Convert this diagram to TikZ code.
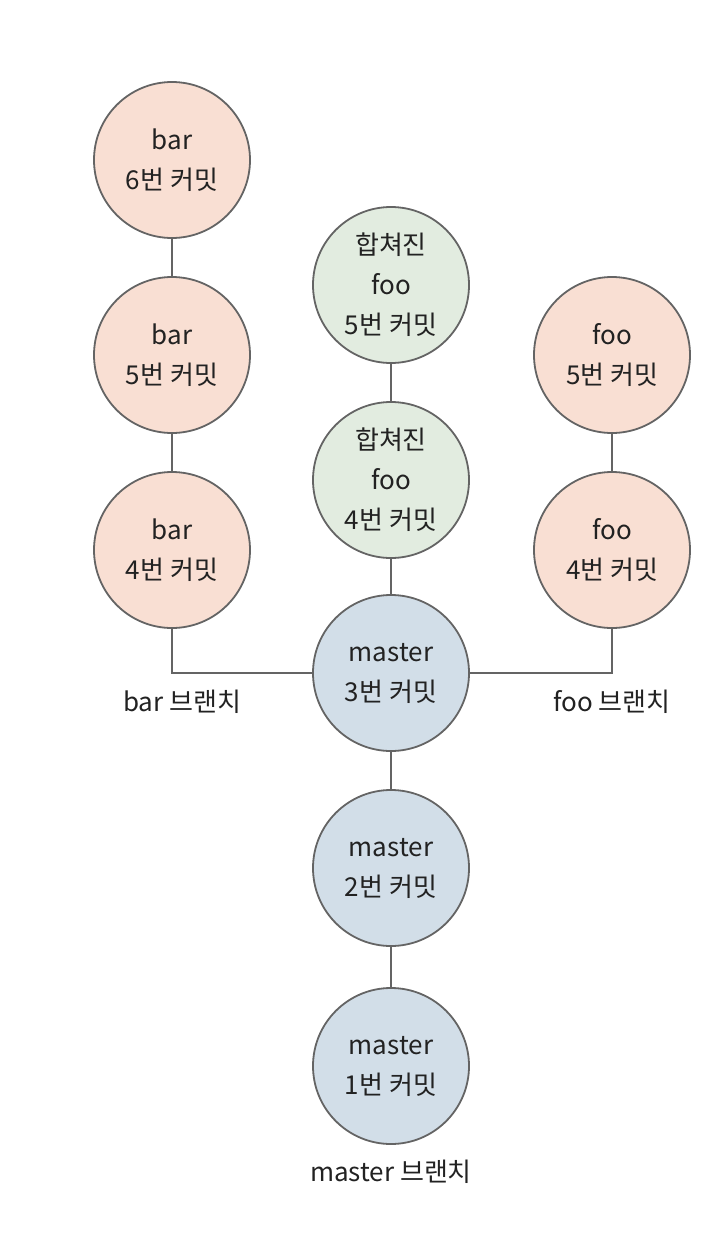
\documentclass[tikz,border=0pt]{standalone}
\usepackage{fontspec}
\setmainfont{Noto Sans CJK KR}
\usepackage{xcolor}
\usepackage{tikz}
\usetikzlibrary{positioning}

\definecolor{barpeach}{RGB}{249,223,211}
\definecolor{mergegreen}{RGB}{226,236,224}
\definecolor{masterblue}{RGB}{210,222,232}
\definecolor{edgegray}{RGB}{100,100,100}
\definecolor{inkgray}{RGB}{34,34,34}

\begin{document}
\begin{tikzpicture}[x=1pt, y=-1pt,
  commit/.style={circle, draw=edgegray, line width=1.8pt,
                 minimum size=156pt, inner sep=0pt, align=center,
                 text=inkgray, font=\fontsize{26}{40}\selectfont},
  branchc/.style ={commit, fill=barpeach},
  mergec/.style  ={commit, fill=mergegreen},
  masterc/.style ={commit, fill=masterblue},
  link/.style={draw=edgegray, line width=1.8pt},
  blabel/.style={text=inkgray, font=\fontsize{26}{30}\selectfont},
]
  \useasboundingbox (0,0) rectangle (723,1239);

  % === master branch ===
  \node[masterc] (m3) at (391, 673)  {master\\3번 커밋};
  \node[masterc] (m2) at (391, 868)  {master\\2번 커밋};
  \node[masterc] (m1) at (391, 1066) {master\\1번 커밋};
  \node[blabel]  (mlab) at (391, 1172) {master 브랜치};

  % === merged foo ===
  \node[mergec] (g4) at (391, 480) {합쳐진\\foo\\4번 커밋};
  \node[mergec] (g5) at (391, 285) {합쳐진\\foo\\5번 커밋};

  % === bar branch ===
  \node[branchc] (b4) at (172, 550) {bar\\4번 커밋};
  \node[branchc] (b5) at (172, 355) {bar\\5번 커밋};
  \node[branchc] (b6) at (172, 160) {bar\\6번 커밋};
  \node[blabel]  (blab) at (182, 702) {bar 브랜치};

  % === foo branch ===
  \node[branchc] (f4) at (612, 550) {foo\\4번 커밋};
  \node[branchc] (f5) at (612, 355) {foo\\5번 커밋};
  \node[blabel]  (flab) at (612, 702) {foo 브랜치};

  % connectors
  \draw[link] (m1) -- (m2);
  \draw[link] (m2) -- (m3);
  \draw[link] (m3) -- (g4);
  \draw[link] (g4) -- (g5);
  \draw[link] (b4) -- (b5);
  \draw[link] (b5) -- (b6);
  \draw[link] (f4) -- (f5);
  \draw[link] (b4) |- (m3);
  \draw[link] (f4) |- (m3);

\end{tikzpicture}
\end{document}
